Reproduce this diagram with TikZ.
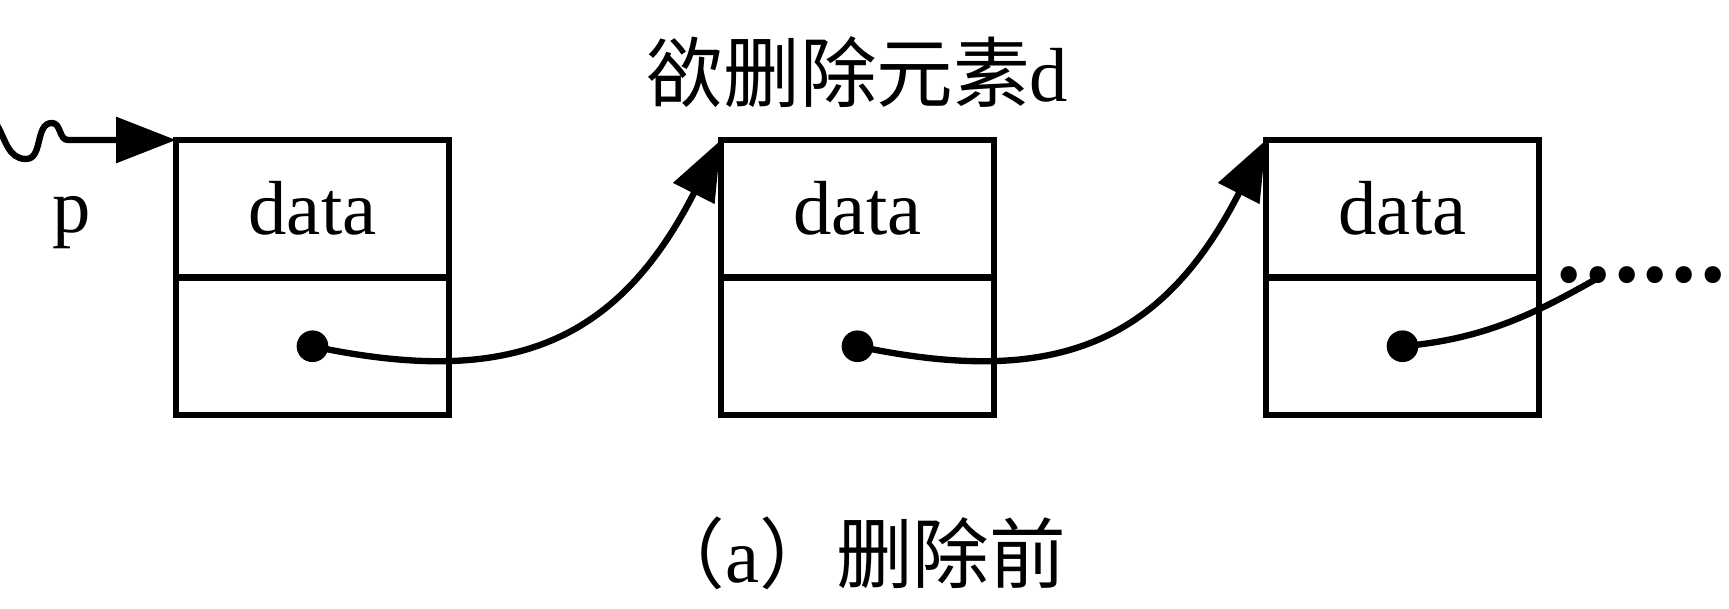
\documentclass[tikz,border=0pt]{standalone}
\usepackage{fontspec}
\setmainfont{Liberation Serif}
\newfontfamily\cjk{Noto Sans CJK SC}
\usetikzlibrary{arrows.meta,positioning}

\begin{document}
\begin{tikzpicture}[x=0.3pt, y=0.3pt, every node/.style={font=\fontsize{23}{27}\selectfont},
  field/.style={draw, line width=1.9pt, minimum width=81.9pt, minimum height=41.25pt, inner sep=0pt, outer sep=0pt},
  ptr/.style={circle, fill, inner sep=0pt, minimum size=9.5pt},
  link/.style={line width=1.9pt, -{Triangle[length=18pt,width=13.5pt]}}]
\useasboundingbox (0,0) rectangle (1729,609);

\node[field] (d1) at (312.5,400.25) {data};
\node[field, below=0pt of d1] (n1) {};
\node[field] (d2) at (857.5,400.25) {data};
\node[field, below=0pt of d2] (n2) {};
\node[field] (d3) at (1402.5,400.25) {data};
\node[field, below=0pt of d3] (n3) {};

\node[ptr] (p1) at (n1.center) {};
\node[ptr] (p2) at (n2.center) {};
\node[ptr] (p3) at (n3.center) {};

\node (p) at (72,386) {p};
\node (title) at (857.5,537) {{\cjk 欲删除元素}d};
\node (caption) at (857.5,56) {{\cjk （}a{\cjk ）删除前}};
\node[inner sep=0pt] (ell) at (1640.5,334) {\cjk\bfseries ……};
\coordinate (e2) at (1603,334);
\coordinate (tail) at (-3,484);

% head pointer
\draw[link] (tail) to[out=-60,in=180] (26,450) to[out=0,in=180] (52,486)
  to[out=0,in=180] (68,469) -- (d1.north west);

% next links
\draw[link] (p1.center) .. controls +(-12:200) and +(243:230) .. (d2.north west);
\draw[link] (p2.center) .. controls +(-12:200) and +(243:230) .. (d3.north west);
\draw[line width=1.9pt] (p3.center) .. controls +(5:80) and +(210:80) .. (e2);
\end{tikzpicture}
\end{document}
